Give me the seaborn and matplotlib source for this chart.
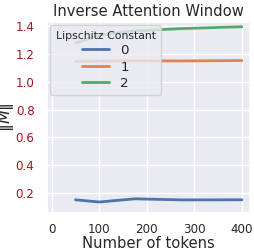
import pandas as pd
import seaborn as sns
import matplotlib.pyplot as plt

tokens = [50, 100, 175, 275, 400]
lip_0 = [0.151, 0.135, 0.158, 0.150, 0.151]
lip_1 = [1.146, 1.148, 1.150, 1.149, 1.152]
lip_2 = [1.277, 1.335, 1.365, 1.382, 1.395]
lip_labels = ['0', '1', '2']

rows = []
for lab, vals in zip(lip_labels, [lip_0, lip_1, lip_2]):
    for t, v in zip(tokens, vals):
        rows.append({'tokens': t, 'norm': v, 'Lipschitz Constant': lab})
df = pd.DataFrame(rows)

sns.set_theme(style='darkgrid')
fig, ax = plt.subplots(figsize=(2.54, 2.5), dpi=100)
sns.lineplot(data=df, x='tokens', y='norm', hue='Lipschitz Constant', ax=ax, linewidth=2)

ax.set_title('Inverse Attention Window', fontsize=10.6, color='#262626', pad=4)
ax.set_xlabel('Number of tokens', fontsize=10.6, labelpad=0)
ax.set_ylabel(r'$\|M\|$', fontsize=11.5, labelpad=-0.5)
ax.set_xticks([0, 100, 200, 300, 400])
ax.set_yticks([0.2, 0.4, 0.6, 0.8, 1.0, 1.2, 1.4])
ax.set_xlim(-10, 417)
ax.set_ylim(0.056, 1.429)
ax.tick_params(axis='x', labelsize=8.6, pad=1.5)
ax.tick_params(axis='y', labelsize=8.6, labelcolor='#a0181c', pad=3)
leg = ax.legend(title='Lipschitz Constant', loc='upper left', fontsize=9.6, title_fontsize=7.8,
                borderaxespad=0.25, labelspacing=0.26, handlelength=2.0, handletextpad=0.85)

fig.subplots_adjust(left=0.185, right=0.984, top=0.912, bottom=0.148)
fig.savefig('out.png')
plt.close()
